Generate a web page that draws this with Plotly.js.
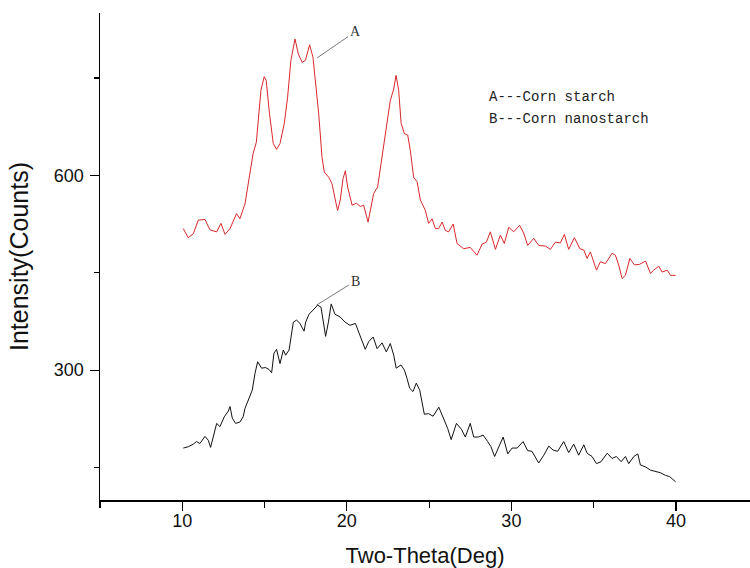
<!DOCTYPE html>
<html>
<head>
<meta charset="utf-8">
<script src="https://cdn.plot.ly/plotly-3.0.1.min.js"></script>
<style>html,body{margin:0;padding:0;background:#fff;}#chart{width:750px;height:568px;}</style>
</head>
<body>
<div id="chart"></div>
<script>
// Curve A: corn starch (red)
const starchX = [10.06,10.36,10.67,10.97,11.38,11.68,12.09,12.35,12.6,12.9,13.3,13.5,13.81,14.0,14.3,14.5,14.78,14.98,15.1,15.3,15.53,15.73,15.94,16.2,16.4,16.6,16.85,17.05,17.28,17.48,17.74,17.94,18.09,18.29,18.49,18.63,18.9,19.1,19.3,19.44,19.6,19.77,19.91,20.05,20.32,20.58,20.82,21.02,21.29,21.43,21.63,21.87,22.14,22.4,22.64,22.85,22.99,23.15,23.3,23.5,23.7,23.86,24.06,24.27,24.47,24.77,24.97,25.18,25.38,25.58,25.79,25.99,26.19,26.46,26.7,27.1,27.5,27.91,28.22,28.48,28.72,29.03,29.33,29.57,29.84,30.14,30.5,30.75,30.99,31.36,31.66,32.07,32.37,32.67,32.98,33.22,33.48,33.83,34.16,34.4,34.6,34.8,35.17,35.41,35.71,36.12,36.32,36.52,36.73,36.93,37.2,37.48,37.8,38.15,38.45,38.65,38.96,39.16,39.47,39.67,39.98];
const starchY = [518,504,510,531,532,516,513,526,509,518,541,533,556,587,633,651,731,752,746,695,649,640,649,680,720,777,810,787,774,777,801,782,746,695,628,605,597,587,562,546,562,595,607,582,554,557,552,554,528,544,572,582,628,669,715,733,754,731,680,664,662,638,597,590,562,546,526,533,518,518,528,515,513,525,495,487,489,477,494,497,513,486,508,495,520,513,523,511,492,503,492,491,486,497,496,509,486,504,487,485,472,482,454,467,464,480,477,462,441,446,472,462,463,468,449,454,460,451,454,446,446];

// Curve B: corn nanostarch (black)
const nanoX = [10.06,10.36,10.67,10.87,11.07,11.38,11.58,11.72,11.88,12.09,12.29,12.55,12.8,12.9,13.04,13.24,13.5,13.7,13.81,14.05,14.25,14.42,14.58,14.82,15.06,15.27,15.43,15.57,15.73,15.94,16.14,16.28,16.49,16.61,16.75,16.95,17.15,17.4,17.5,17.7,17.96,18.23,18.43,18.57,18.71,18.88,19.05,19.28,19.59,19.89,20.19,20.52,20.72,20.92,21.12,21.33,21.6,21.84,22.14,22.4,22.64,22.85,23.0,23.29,23.5,23.66,23.82,24.02,24.22,24.43,24.57,24.71,24.97,25.24,25.59,25.93,26.13,26.34,26.66,26.96,27.2,27.5,27.71,28.01,28.28,28.56,28.76,28.98,29.23,29.5,29.78,30.04,30.35,30.71,30.99,31.25,31.66,31.97,32.27,32.53,32.81,33.18,33.48,33.79,34.09,34.4,34.6,34.9,35.17,35.45,35.82,36.12,36.38,36.67,36.93,37.13,37.44,37.68,37.84,38.15,38.45,38.75,39.06,39.36,39.62,39.98];
const nanoY = [180,182,186,190,187,198,192,181,197,218,213,228,237,244,226,218,220,228,241,256,269,295,313,303,304,301,296,326,332,310,331,323,331,351,374,377,372,360,374,386,393,400,397,374,352,374,402,386,382,374,369,372,359,344,332,344,351,333,342,328,341,323,303,308,300,287,272,267,280,269,249,232,233,229,243,223,210,193,218,209,197,218,197,197,200,190,182,167,182,197,171,180,180,190,176,175,157,169,183,177,175,190,173,186,169,185,172,167,156,159,172,164,167,159,167,156,167,171,154,151,146,144,142,138,136,128];

// Text
const xTitle = "Two-Theta(Deg)";
const yTitle = "Intensity(Counts)";
const legendLines = ["A---Corn starch", "B---Corn nanostarch"];
const curveLabels = ["A", "B"];
const xTickVals = [10, 20, 30, 40];
const yTickVals = [300, 600];

// label anchor positions (data units)
const labelPos = [{x: 20.5, y: 821, tx: 18.2, ty: 781}, {x: 20.5, y: 437, tx: 18.15, ty: 400}];
const legendPos = [{x: 28.5, y: 720}, {x: 28.5, y: 686}];

const traces = [
  {x: starchX, y: starchY, type: 'scatter', mode: 'lines', line: {color: '#d8282c', width: 1}, hoverinfo: 'skip'},
  {x: nanoX, y: nanoY, type: 'scatter', mode: 'lines', line: {color: '#111111', width: 1}, hoverinfo: 'skip'}
];

const annotations = [];
curveLabels.forEach((t, i) => {
  annotations.push({
    x: labelPos[i].tx, y: labelPos[i].ty, ax: labelPos[i].x, ay: labelPos[i].y,
    xref: 'x', yref: 'y', axref: 'x', ayref: 'y',
    text: t, showarrow: true, arrowhead: 0, arrowwidth: 0.8, arrowcolor: '#555',
    standoff: 0, startstandoff: 0,
    font: {family: 'Liberation Serif, serif', size: 14, color: '#333'}
  });
});
legendLines.forEach((t, i) => {
  annotations.push({
    x: legendPos[i].x, y: legendPos[i].y, xref: 'x', yref: 'y',
    xanchor: 'left', yanchor: 'middle', text: t, showarrow: false,
    font: {family: 'Liberation Mono, monospace', size: 14, color: '#222'}
  });
});

const layout = {
  width: 750, height: 568,
  margin: {l: 100, r: 0, t: 13, b: 68, pad: 0},
  paper_bgcolor: '#fff', plot_bgcolor: '#fff',
  showlegend: false,
  font: {family: 'Liberation Sans, Arial, sans-serif', color: '#111'},
  xaxis: {
    range: [5, 44.5], showgrid: false, zeroline: false,
    showline: true, linecolor: '#000', linewidth: 1.5,
    ticks: 'outside', ticklen: 9, tickwidth: 1.2, tickcolor: '#000',
    tickvals: xTickVals, tickfont: {size: 18, color: '#111'},
    ticklabelstandoff: -5,
    minor: {dtick: 5, tick0: 0, ticks: 'outside', ticklen: 6, tickwidth: 1.2, tickcolor: '#000', showgrid: false},
    title: {text: xTitle, font: {size: 22, color: '#111'}, standoff: 30},
    fixedrange: true
  },
  yaxis: {
    range: [100, 850], showgrid: false, zeroline: false,
    showline: true, linecolor: '#000', linewidth: 1.5,
    ticks: 'outside', ticklen: 9, tickwidth: 1.2, tickcolor: '#000',
    tickvals: yTickVals, tickfont: {size: 18, color: '#111'},
    ticklabelstandoff: 2,
    minor: {dtick: 150, tick0: 0, ticks: 'outside', ticklen: 5, tickwidth: 1.2, tickcolor: '#000', showgrid: false},
    title: {text: yTitle, font: {size: 25, color: '#111'}, standoff: 18},
    fixedrange: true
  },
  annotations: annotations
};

Plotly.newPlot('chart', traces, layout, {staticPlot: true, displayModeBar: false});
</script>
</body>
</html>
